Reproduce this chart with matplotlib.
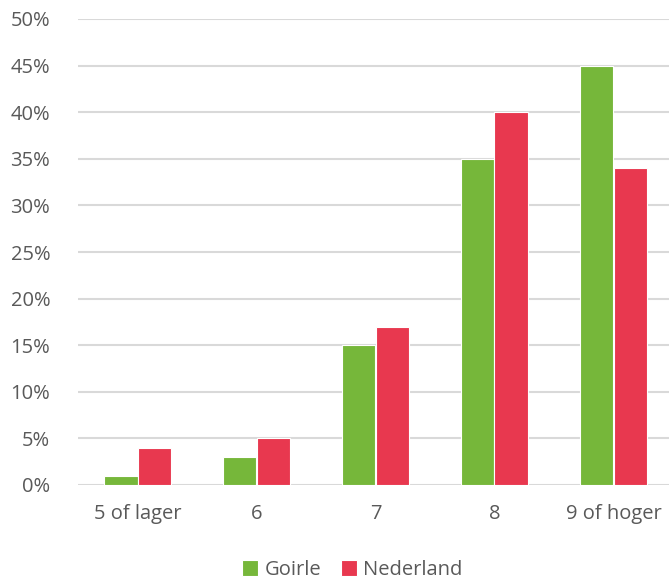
import numpy as np
import matplotlib.pyplot as plt

categories = ['5 of lager', '6', '7', '8', '9 of hoger']
goirle = [1, 3, 15, 35, 45]
nederland = [4, 5, 17, 40, 34]

plt.rcParams['font.family'] = ['Open Sans', 'DejaVu Sans']
txt = '#595959'

fig = plt.figure(figsize=(6.69, 5.79), dpi=100)
ax = fig.add_axes([78 / 669, 1 - 485 / 579, 595 / 669, 466 / 579])

x = np.arange(len(categories))
w = 0.285
ax.bar(x - w / 2, goirle, w, color='#76B73A', edgecolor='white', linewidth=0.8, label='Goirle', zorder=3)
ax.bar(x + w / 2, nederland, w, color='#E8384F', edgecolor='white', linewidth=0.8, label='Nederland', zorder=3)

ax.set_xlim(-0.5, 4.5)
ax.set_ylim(0, 50)
ax.set_yticks(range(0, 51, 5))
ax.set_yticklabels([f'{v}%' for v in range(0, 51, 5)])
ax.set_xticks(x)
ax.set_xticklabels(categories)
ax.yaxis.grid(True, color='#d9d9d9', linewidth=1.5, zorder=0)
for s in ax.spines.values():
    s.set_visible(False)
ax.tick_params(axis='both', length=0, labelsize=14.5, colors=txt)
ax.tick_params(axis='y', pad=20)
ax.tick_params(axis='x', pad=14)

leg = fig.legend(loc='lower center', bbox_to_anchor=(0.527, -0.033), ncol=2, frameon=False,
                 fontsize=14.5, handlelength=0.8, handleheight=0.8, handletextpad=0.3, columnspacing=1.0)
for t in leg.get_texts():
    t.set_color(txt)

fig.savefig('out.png', dpi=100)
